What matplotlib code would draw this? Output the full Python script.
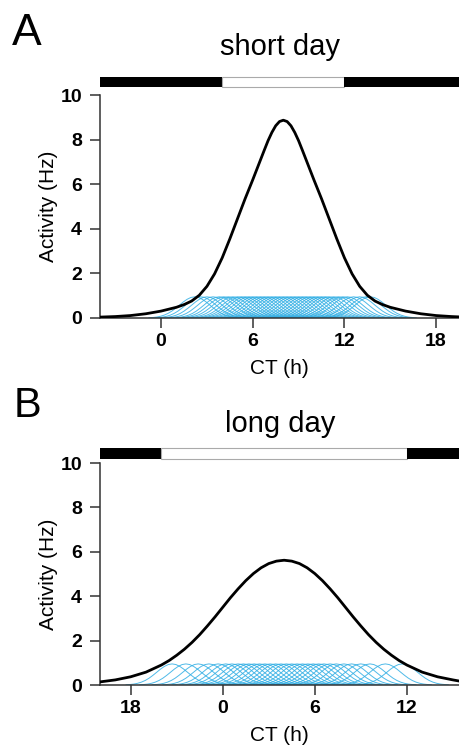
import matplotlib
matplotlib.use('Agg')
import matplotlib.pyplot as plt
import matplotlib.transforms as mtransforms
from matplotlib.patches import Rectangle

plt.rcParams['font.family'] = ['Liberation Sans', 'DejaVu Sans']

# Population activity (black curves)
ct_short = [-4, -3, -2, -1, 0, 1, 1.5, 2, 2.5, 3, 3.5, 4, 4.5, 5, 5.5, 6, 6.5, 6.75, 7, 7.25, 7.5, 7.75,
            8, 8.25, 8.5, 8.75, 9, 9.25, 9.5, 10, 10.5, 11, 11.5, 12, 12.5, 13, 13.5, 14, 14.5, 15, 16,
            17, 18, 19, 19.5]
act_short = [0.04, 0.065, 0.11, 0.19, 0.31, 0.48, 0.60, 0.76, 1.02, 1.42, 1.98, 2.70, 3.55, 4.45, 5.35,
             6.20, 7.08, 7.52, 7.95, 8.32, 8.62, 8.81, 8.87, 8.81, 8.62, 8.32, 7.95, 7.52, 7.08, 6.20,
             5.35, 4.45, 3.55, 2.70, 1.98, 1.42, 1.02, 0.76, 0.60, 0.48, 0.31, 0.19, 0.11, 0.065, 0.05]

ct_long = [-8, -7, -6, -5, -4, -3.5, -3, -2.5, -2, -1.5, -1, -0.5, 0, 0.5, 1, 1.5, 2, 2.5, 3, 3.5, 4,
           4.5, 5, 5.5, 6, 6.5, 7, 7.5, 8, 8.5, 9, 9.5, 10, 10.5, 11, 11.5, 12, 13, 14, 15, 15.4]
act_long = [0.14, 0.23, 0.37, 0.58, 0.90, 1.10, 1.34, 1.61, 1.92, 2.27, 2.66, 3.07, 3.50, 3.93, 4.33,
            4.70, 5.02, 5.28, 5.47, 5.58, 5.62, 5.58, 5.47, 5.28, 5.02, 4.70, 4.33, 3.93, 3.50, 3.07,
            2.66, 2.27, 1.92, 1.61, 1.34, 1.10, 0.90, 0.58, 0.37, 0.23, 0.18]

# Single-neuron activity bump (blue curves), offset from its peak in hours
bump_offsets = [-3, -2.75, -2.5, -2.25, -2, -1.75, -1.5, -1.25, -1, -0.75, -0.5, -0.25, 0,
                0.25, 0.5, 0.75, 1, 1.25, 1.5, 1.75, 2, 2.25, 2.5, 2.75, 3]
bump_profile = [0.011, 0.022, 0.042, 0.076, 0.129, 0.205, 0.308, 0.436, 0.576, 0.718, 0.838, 0.921, 0.95,
                0.921, 0.838, 0.718, 0.576, 0.436, 0.308, 0.205, 0.129, 0.076, 0.042, 0.022, 0.011]

# Peak times of the single neurons
peaks_short = [2.2, 2.6, 3.0, 3.4, 3.8, 4.1, 4.4, 4.7, 5.0, 5.25, 5.5, 5.75, 6.0, 6.25, 6.5, 6.75, 7.0,
               7.25, 7.5, 7.75, 8.0, 8.25, 8.5, 8.75, 9.0, 9.25, 9.5, 9.75, 10.0, 10.25, 10.5, 10.75,
               11.0, 11.3, 11.6, 11.9, 12.2, 12.6, 13.0, 13.4, 13.7]
peaks_long = [-3.3, -2.4, -1.6, -0.9, -0.3, 0.2, 0.6, 1.0, 1.35, 1.7, 2.05, 2.4, 2.75, 3.1, 3.45, 3.8,
              4.15, 4.5, 4.85, 5.2, 5.55, 5.9, 6.25, 6.6, 7.0, 7.4, 7.9, 8.4, 9.0, 9.6, 10.6, 11.7]

# Light phase (CT) and x axis
light_short = (4, 12)
light_long = (-4, 12)
xlim_short = (-4, 19.5)
xlim_long = (-8, 15.4)
ticks_short = [0, 6, 12, 18]
ticklabels_short = ['0', '6', '12', '18']
ticks_long = [-6, 0, 6, 12]
ticklabels_long = ['18', '0', '6', '12']

blue = '#30aee4'
W, H = 459.0, 750.0


def draw_panel(ax, ct, act, peaks, light, xlim, ticks, ticklabels, bar_y0):
    for p in peaks:
        ax.plot([p + o for o in bump_offsets], bump_profile, color=blue, lw=0.7, alpha=0.85, zorder=2)
    ax.plot(ct, act, color='black', lw=2.0, zorder=3)

    ax.set_xlim(xlim)
    ax.set_ylim(0, 10)
    ax.set_xticks(ticks)
    ax.set_xticklabels(ticklabels)
    ax.set_yticks([0, 2, 4, 6, 8, 10])
    ax.tick_params(direction='out', length=7, width=1.1, color='#333333', labelsize=14, pad=4)
    ax.tick_params(axis='y', pad=6)
    for lab in ax.get_xticklabels() + ax.get_yticklabels():
        lab.set_fontweight('bold')
    for s in ['top', 'right']:
        ax.spines[s].set_visible(False)
    for s in ['left', 'bottom']:
        ax.spines[s].set_linewidth(1.1)
        ax.spines[s].set_color('#333333')
    ax.set_xlabel('CT (h)', fontsize=15, labelpad=6)
    ax.set_ylabel('Activity (Hz)', fontsize=15, labelpad=2)

    # light / dark bar above the plot
    trans = mtransforms.blended_transform_factory(ax.transData, ax.transAxes)
    h = 0.046
    ax.add_patch(Rectangle((xlim[0], bar_y0), light[0] - xlim[0], h, transform=trans,
                           facecolor='black', edgecolor='none', clip_on=False))
    ax.add_patch(Rectangle((light[0], bar_y0), light[1] - light[0], h, transform=trans,
                           facecolor='white', edgecolor='#aaaaaa', lw=0.8, clip_on=False))
    ax.add_patch(Rectangle((light[1], bar_y0), xlim[1] - light[1], h, transform=trans,
                           facecolor='black', edgecolor='none', clip_on=False))


fig = plt.figure(figsize=(W / 100, H / 100), dpi=100)

ax1 = fig.add_axes([100 / W, 1 - 318 / H, 1 - 100 / W, 223 / H])
draw_panel(ax1, ct_short, act_short, peaks_short, light_short, xlim_short, ticks_short, ticklabels_short, 1.036)

ax2 = fig.add_axes([100 / W, 1 - 685 / H, 1 - 100 / W, 222 / H])
draw_panel(ax2, ct_long, act_long, peaks_long, light_long, xlim_long, ticks_long, ticklabels_long, 1.02)

# titles and panel letters
fig.text(280 / W, 1 - 55 / H, 'short day', ha='center', va='baseline', fontsize=21)
fig.text(280 / W, 1 - 432 / H, 'long day', ha='center', va='baseline', fontsize=21)
fig.text(12 / W, 1 - 45 / H, 'A', ha='left', va='baseline', fontsize=32)
fig.text(14 / W, 1 - 417 / H, 'B', ha='left', va='baseline', fontsize=30)

fig.savefig('out.png', dpi=100)
